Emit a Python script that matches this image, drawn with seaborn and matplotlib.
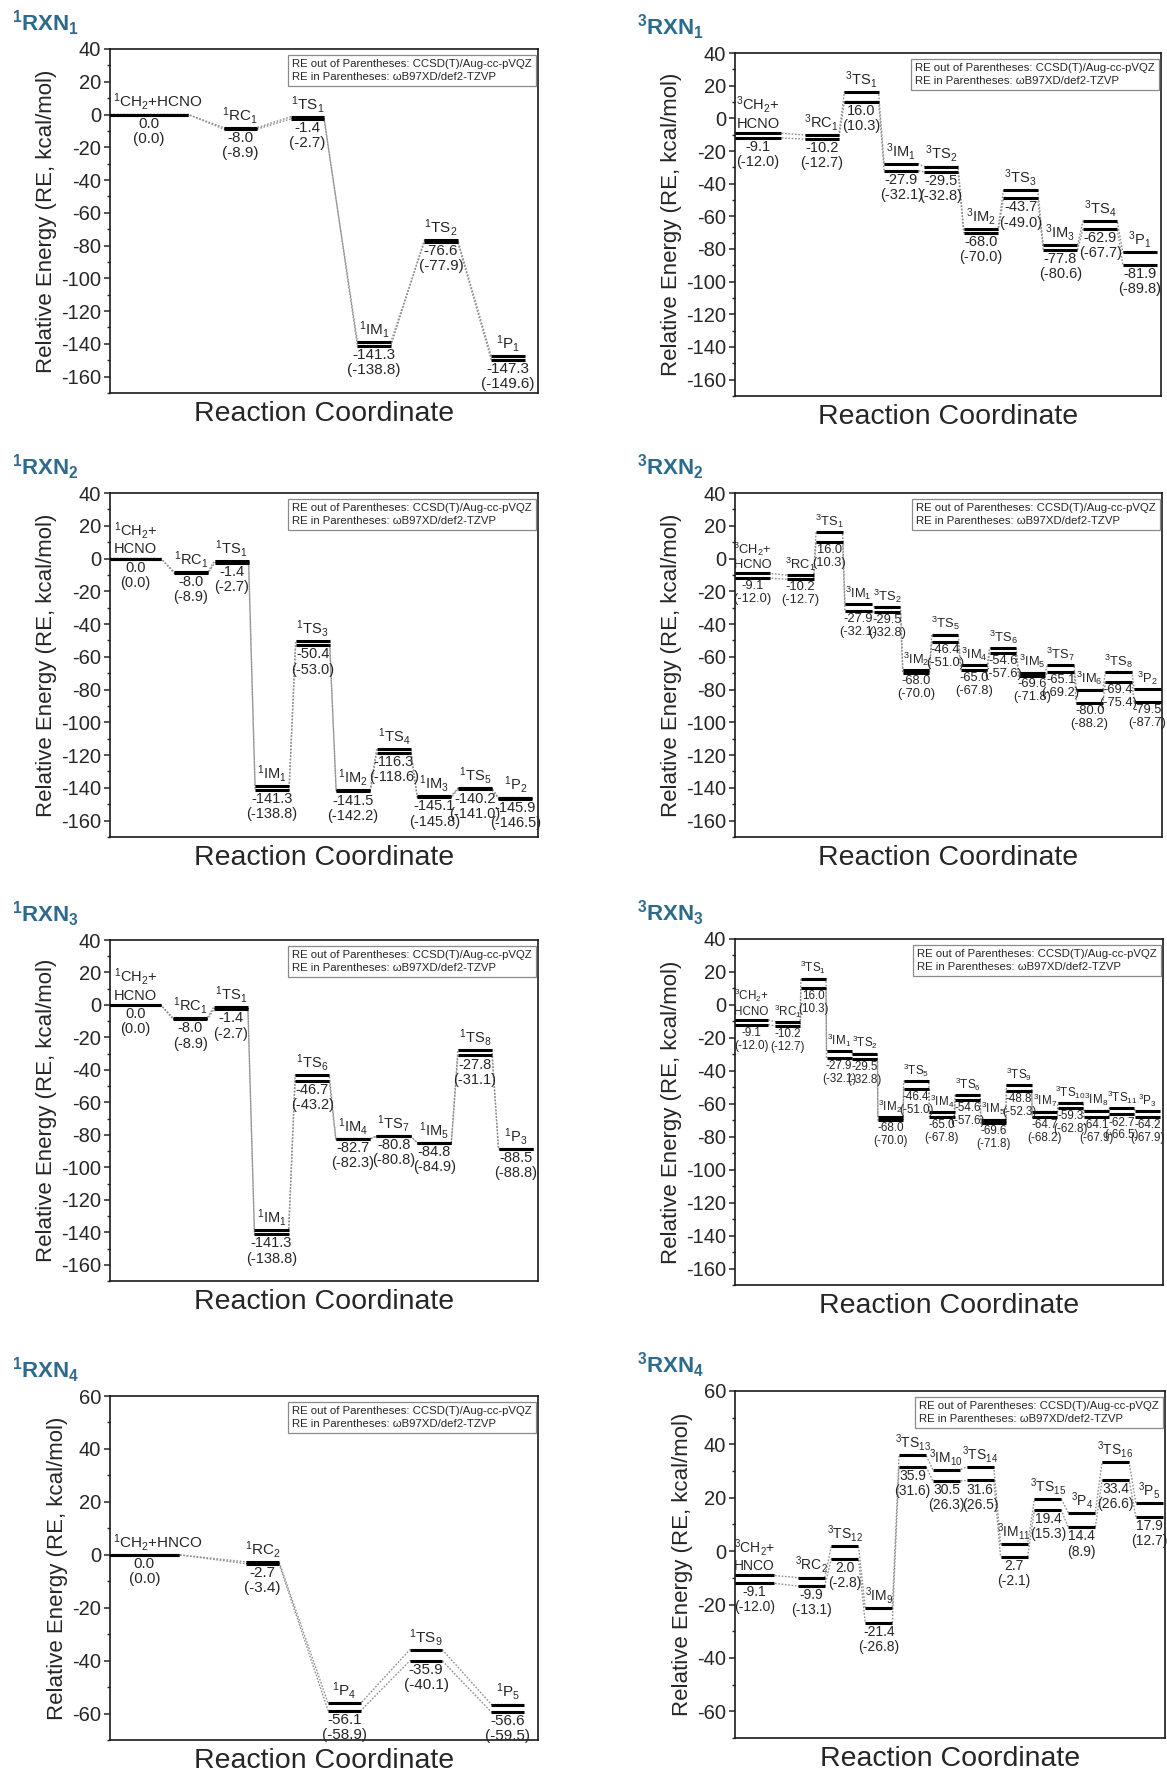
import re

import matplotlib
matplotlib.use("Agg")
import matplotlib.pyplot as plt
import numpy as np
import pandas as pd
import seaborn as sns
from matplotlib.ticker import MultipleLocator

# relative energies in kcal/mol: CCSD(T)/aug-cc-pVQZ and (wB97XD/def2-TZVP)
s1_species = ["CH2+HCNO", "RC1", "TS1", "IM1", "TS2", "P1"]
s1_ccsd = [0.0, -8.0, -1.4, -141.3, -76.6, -147.3]
s1_dft = [0.0, -8.9, -2.7, -138.8, -77.9, -149.6]

s2_species = ["CH2+HCNO", "RC1", "TS1", "IM1", "TS3", "IM2", "TS4", "IM3", "TS5", "P2"]
s2_ccsd = [0.0, -8.0, -1.4, -141.3, -50.4, -141.5, -116.3, -145.1, -140.2, -145.9]
s2_dft = [0.0, -8.9, -2.7, -138.8, -53.0, -142.2, -118.6, -145.8, -141.0, -146.5]

s3_species = ["CH2+HCNO", "RC1", "TS1", "IM1", "TS6", "IM4", "TS7", "IM5", "TS8", "P3"]
s3_ccsd = [0.0, -8.0, -1.4, -141.3, -46.7, -82.7, -80.8, -84.8, -27.8, -88.5]
s3_dft = [0.0, -8.9, -2.7, -138.8, -43.2, -82.3, -80.8, -84.9, -31.1, -88.8]

s4_species = ["CH2+HNCO", "RC2", "P4", "TS9", "P5"]
s4_ccsd = [0.0, -2.7, -56.1, -35.9, -56.6]
s4_dft = [0.0, -3.4, -58.9, -40.1, -59.5]

t1_species = ["CH2+HCNO", "RC1", "TS1", "IM1", "TS2", "IM2", "TS3", "IM3", "TS4", "P1"]
t1_ccsd = [-9.1, -10.2, 16.0, -27.9, -29.5, -68.0, -43.7, -77.8, -62.9, -81.9]
t1_dft = [-12.0, -12.7, 10.3, -32.1, -32.8, -70.0, -49.0, -80.6, -67.7, -89.8]

t2_species = ["CH2+HCNO", "RC1", "TS1", "IM1", "TS2", "IM2", "TS5", "IM4", "TS6",
              "IM5", "TS7", "IM6", "TS8", "P2"]
t2_ccsd = [-9.1, -10.2, 16.0, -27.9, -29.5, -68.0, -46.4, -65.0, -54.6,
           -69.6, -65.1, -80.0, -69.4, -79.5]
t2_dft = [-12.0, -12.7, 10.3, -32.1, -32.8, -70.0, -51.0, -67.8, -57.6,
          -71.8, -69.2, -88.2, -75.4, -87.7]

t3_species = ["CH2+HCNO", "RC1", "TS1", "IM1", "TS2", "IM2", "TS5", "IM4", "TS6",
              "IM5", "TS9", "IM7", "TS10", "IM8", "TS11", "P3"]
t3_ccsd = [-9.1, -10.2, 16.0, -27.9, -29.5, -68.0, -46.4, -65.0, -54.6,
           -69.6, -48.8, -64.7, -59.3, -64.1, -62.7, -64.2]
t3_dft = [-12.0, -12.7, 10.3, -32.1, -32.8, -70.0, -51.0, -67.8, -57.6,
          -71.8, -52.3, -68.2, -62.8, -67.9, -66.5, -67.9]

t4_species = ["CH2+HNCO", "RC2", "TS12", "IM9", "TS13", "IM10", "TS14", "IM11",
              "TS15", "P4", "TS16", "P5"]
t4_ccsd = [-9.1, -9.9, 2.0, -21.4, 35.9, 30.5, 31.6, 2.7, 19.4, 14.4, 33.4, 17.9]
t4_dft = [-12.0, -13.1, -2.8, -26.8, 31.6, 26.3, 26.5, -2.1, 15.3, 8.9, 26.6, 12.7]

NOTE = "RE out of Parentheses: CCSD(T)/Aug-cc-pVQZ\nRE in Parentheses: \u03c9B97XD/def2-TZVP"

FIG_W, FIG_H = 1167, 1777
TITLE_COLOR = "#2e6a8c"
LINK_COLOR = "#8f8f8f"

# layout: axes box in pixels, x window, half level width, end of first level
PANELS = [
    dict(spin=1, rxn=1, species=s1_species, ccsd=s1_ccsd, dft=s1_dft,
         box=(110, 49, 538, 393), xlim=(-0.95, 5.45), half=0.25, first_end=0.22,
         ylim=(-170, 40), fs=11, wrap=False),
    dict(spin=3, rxn=1, species=t1_species, ccsd=t1_ccsd, dft=t1_dft,
         box=(735, 53, 1161, 396), xlim=(-1.18, 9.53), half=0.43, first_end=-0.03,
         ylim=(-170, 40), fs=10.5, wrap=True),
    dict(spin=1, rxn=2, species=s2_species, ccsd=s2_ccsd, dft=s2_dft,
         box=(110, 493, 538, 837), xlim=(-1.0, 9.56), half=0.42, first_end=0.26,
         ylim=(-170, 40), fs=10.5, wrap=True),
    dict(spin=3, rxn=2, species=t2_species, ccsd=t2_ccsd, dft=t2_dft,
         box=(735, 493, 1162, 837), xlim=(-1.26, 13.5), half=0.46, first_end=-0.04,
         ylim=(-170, 40), fs=9.3, wrap=True),
    dict(spin=1, rxn=3, species=s3_species, ccsd=s3_ccsd, dft=s3_dft,
         box=(110, 940, 538, 1281), xlim=(-0.97, 9.55), half=0.42, first_end=0.28,
         ylim=(-170, 40), fs=10.5, wrap=True),
    dict(spin=3, rxn=3, species=t3_species, ccsd=t3_ccsd, dft=t3_dft,
         box=(735, 939, 1163, 1285), xlim=(-1.05, 15.6), half=0.49, first_end=0.24,
         ylim=(-170, 40), fs=8.4, wrap=True),
    dict(spin=1, rxn=4, species=s4_species, ccsd=s4_ccsd, dft=s4_dft,
         box=(110, 1396, 538, 1740), xlim=(-0.87, 4.37), half=0.2, first_end=-0.03,
         ylim=(-70, 60), fs=11, wrap=False),
    dict(spin=3, rxn=4, species=t4_species, ccsd=t4_ccsd, dft=t4_dft,
         box=(735, 1391, 1165, 1738), xlim=(-1.25, 11.46), half=0.4, first_end=-0.11,
         ylim=(-70, 60), fs=10, wrap=True),
]


def _part(text):
    m = re.match(r"([A-Z]+)(\d+)$", text)
    if m is None:
        return text
    return f"{m.group(1)}$_{{{m.group(2)}}}$"


def species_label(name, spin, wrap):
    parts = name.split("+")
    label = f"$^{{{spin}}}$" + _part(parts[0])
    if len(parts) > 1:
        label += "+" + ("\n" if wrap else "") + _part(parts[1])
    return label


def draw_panel(fig, p):
    x0, y0, x1, y1 = p["box"]
    ax = fig.add_axes([x0 / FIG_W, 1 - y1 / FIG_H, (x1 - x0) / FIG_W, (y1 - y0) / FIG_H])

    n = len(p["species"])
    xs = np.arange(n, dtype=float)
    lo = xs - p["half"]
    hi = xs + p["half"]
    lo[0] = p["xlim"][0]
    hi[0] = p["first_end"]

    # dotted profile through every level, one path per method
    rows = []
    for method, energies in (("ccsd", p["ccsd"]), ("dft", p["dft"])):
        for i, e in enumerate(energies):
            rows.append((method, lo[i], e))
            rows.append((method, hi[i], e))
    path = pd.DataFrame(rows, columns=["method", "x", "energy"])
    sns.lineplot(data=path, x="x", y="energy", units="method", estimator=None, sort=False,
                 color=LINK_COLOR, lw=1.0, ls=(0, (1.2, 1.2)), legend=False, ax=ax)

    ax.hlines(p["ccsd"], lo, hi, color="black", lw=2.2, zorder=3)
    ax.hlines(p["dft"], lo, hi, color="black", lw=2.2, zorder=3)

    fs = p["fs"]
    for i, name in enumerate(p["species"]):
        xc = (lo[i] + hi[i]) / 2
        e1, e2 = p["ccsd"][i], p["dft"][i]
        label = species_label(name, p["spin"], p["wrap"] and i == 0)
        if i == 0 and not p["wrap"]:
            # one-line reactant label starts just inside the frame
            ax.annotate(label, (lo[0], max(e1, e2)), xytext=(2.5, 1.5),
                        textcoords="offset points", ha="left", va="bottom",
                        fontsize=fs, annotation_clip=False)
        else:
            ax.annotate(label, (xc, max(e1, e2)), xytext=(0, 1.5),
                        textcoords="offset points", ha="center", va="bottom",
                        fontsize=fs, linespacing=1.15, annotation_clip=False)
        ax.annotate(f"{e1:.1f}\n({e2:.1f})", (xc, min(e1, e2)),
                    xytext=(0, -1.5), textcoords="offset points", ha="center", va="top",
                    fontsize=fs, linespacing=1.1, annotation_clip=False)

    ax.text(0.986, 0.971, NOTE, transform=ax.transAxes, ha="right", va="top",
            multialignment="left", fontsize=8.2, linespacing=1.35,
            bbox=dict(boxstyle="square,pad=0.35", fc="white", ec="#8a8a8a", lw=0.9))

    ax.set_xlim(p["xlim"])
    ax.set_ylim(p["ylim"])
    ax.set_xticks([])
    ax.yaxis.set_major_locator(MultipleLocator(20))
    ax.yaxis.set_minor_locator(MultipleLocator(10))
    ax.tick_params(axis="y", which="major", direction="out", length=4.5, width=1.1,
                   labelsize=14.5, pad=2)
    ax.tick_params(axis="y", which="minor", direction="out", length=2.5, width=1.0)
    for sp in ax.spines.values():
        sp.set_visible(True)
        sp.set_linewidth(1.2)
        sp.set_color("#1a1a1a")
    ax.set_ylabel("Relative Energy (RE, kcal/mol)", fontsize=16, labelpad=3)
    ax.set_xlabel("Reaction Coordinate", fontsize=20.5, labelpad=6)

    fig.text((x0 - 98) / FIG_W, 1 - (y0 - 18) / FIG_H,
             f"$^{{{p['spin']}}}$RXN$_{{{p['rxn']}}}$",
             fontsize=16, fontweight="bold", color=TITLE_COLOR, ha="left", va="baseline")
    return ax


sns.set_theme(style="ticks")
plt.rcParams["font.family"] = ["Liberation Sans", "DejaVu Sans"]
plt.rcParams["mathtext.default"] = "regular"
plt.rcParams["axes.unicode_minus"] = False

fig = plt.figure(figsize=(FIG_W / 100, FIG_H / 100), dpi=100)
for panel in PANELS:
    draw_panel(fig, panel)

fig.savefig("out.png", dpi=100)
